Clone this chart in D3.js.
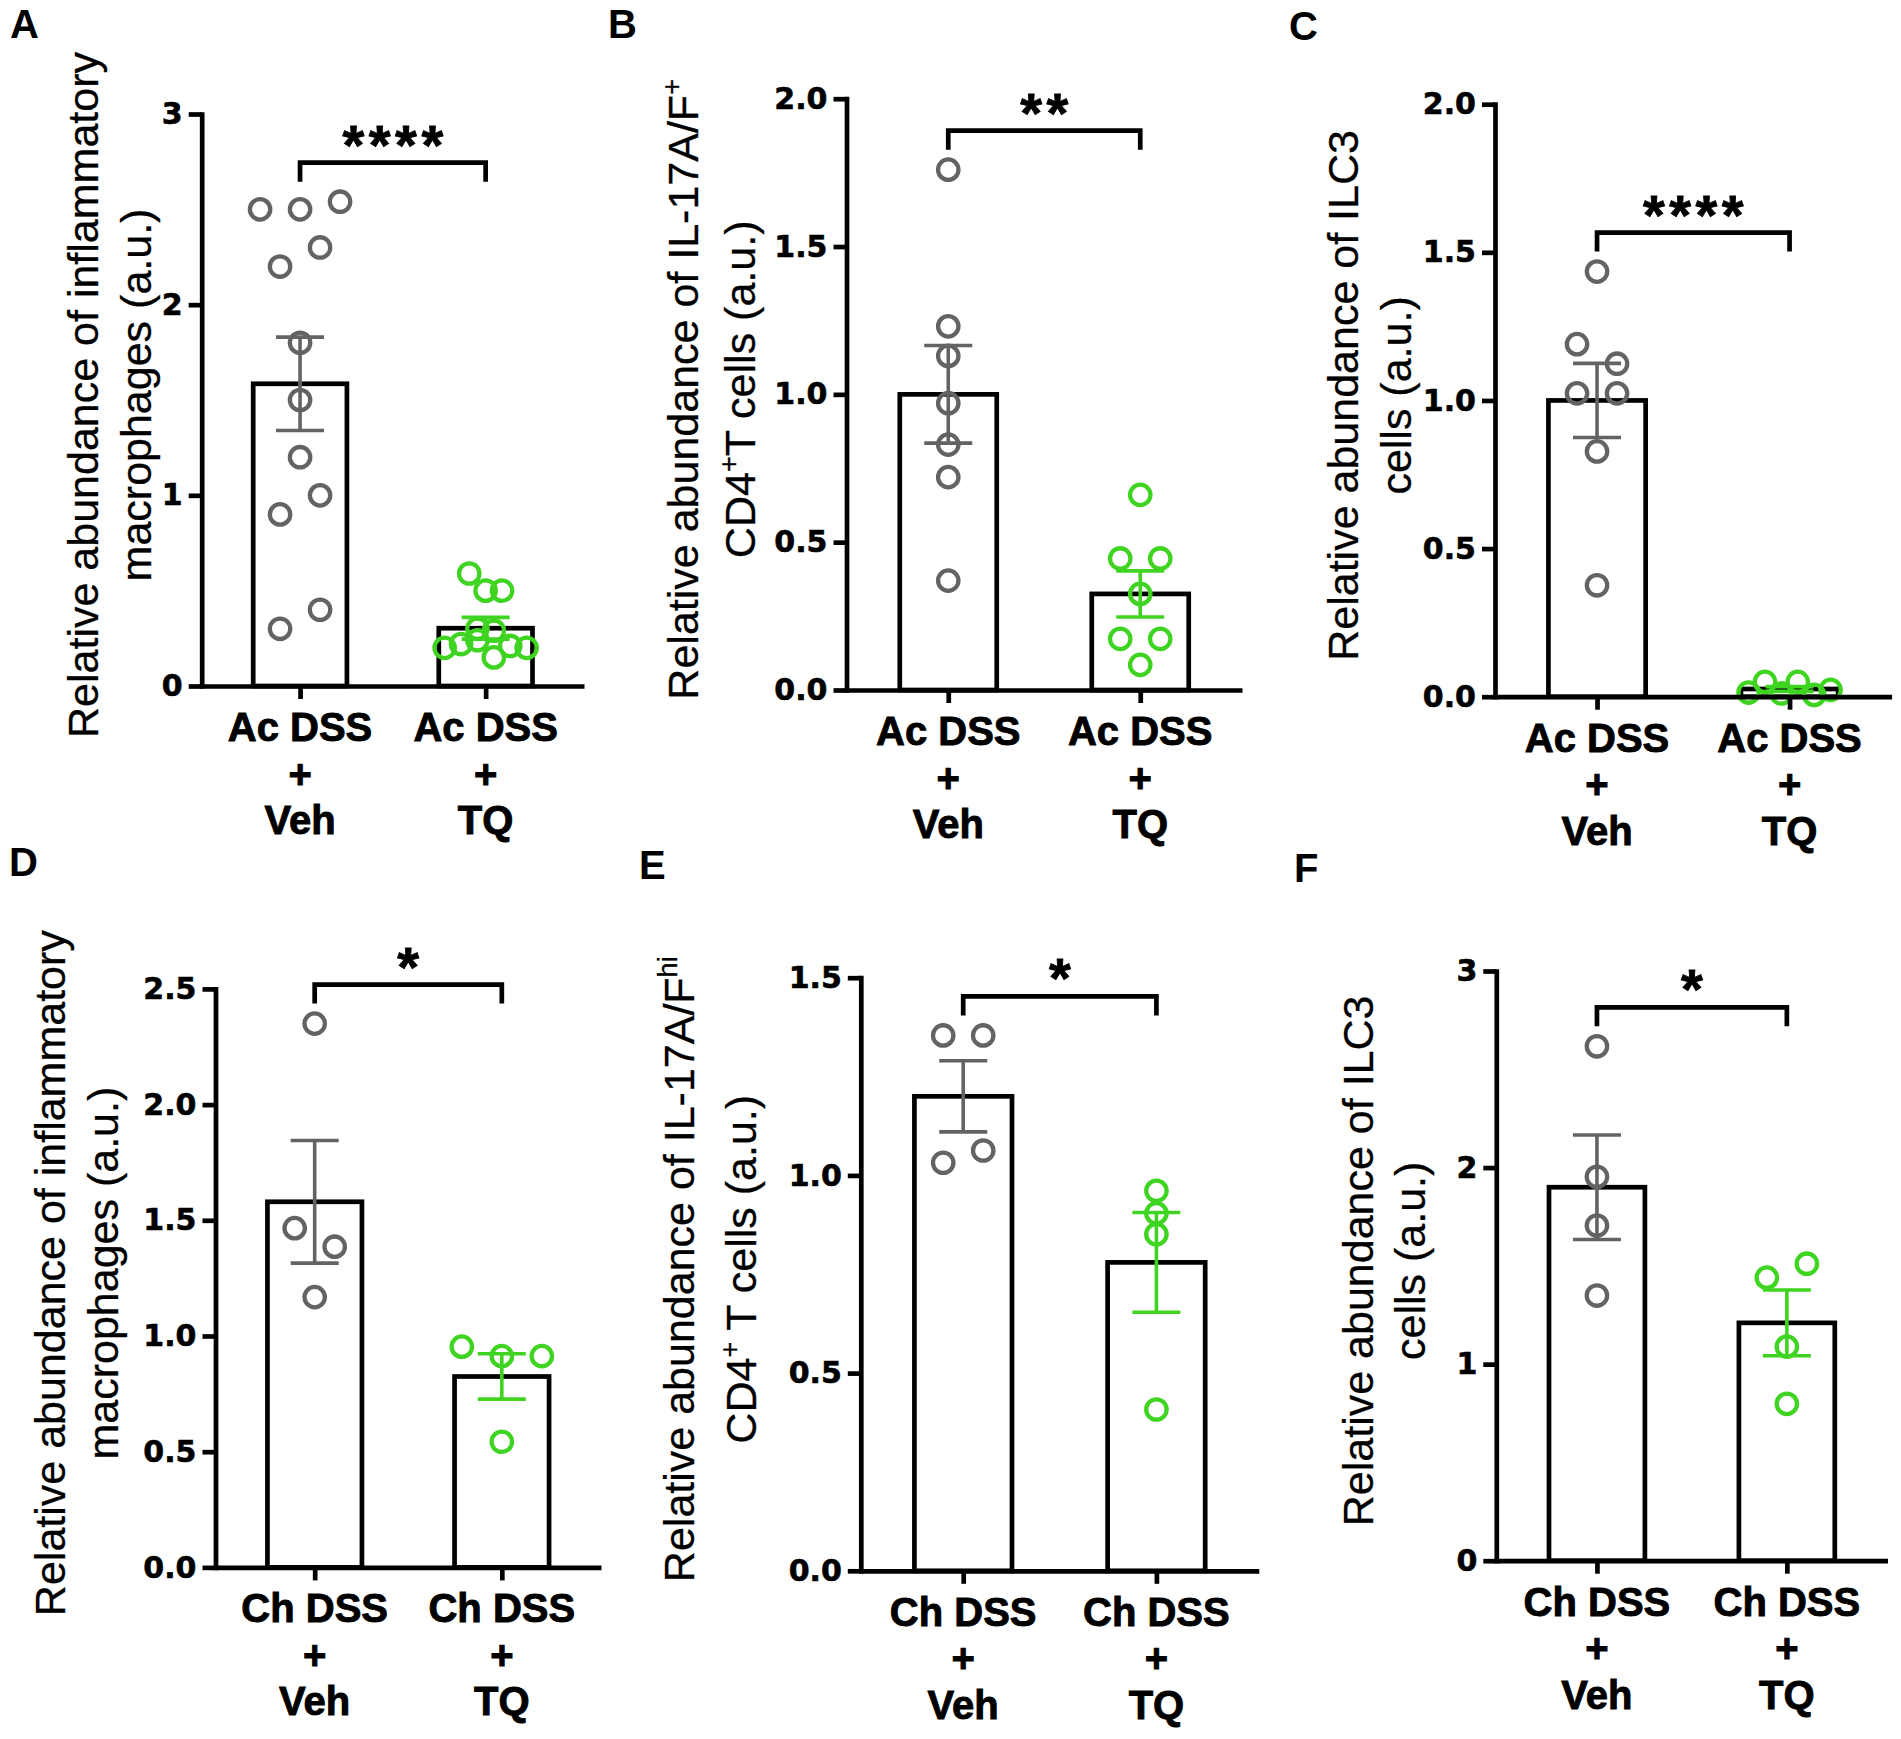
<!DOCTYPE html>
<html><head><meta charset="utf-8">
<script src="https://cdn.jsdelivr.net/npm/d3@7"></script>
<style>body{margin:0;background:#fff}</style>
</head><body>
<svg id="chart" width="1901" height="1739" xmlns="http://www.w3.org/2000/svg"></svg>
<script>
// ---------------- data ----------------
const catsAcute   = [["Ac DSS", "+", "Veh"], ["Ac DSS", "+", "TQ"]];
const catsChronic = [["Ch DSS", "+", "Veh"], ["Ch DSS", "+", "TQ"]];

const ticksA = [0, 1, 2, 3];
const ticksB = [0, 0.5, 1.0, 1.5, 2.0];
const ticksC = [0, 0.5, 1.0, 1.5, 2.0];
const ticksD = [0, 0.5, 1.0, 1.5, 2.0, 2.5];
const ticksE = [0, 0.5, 1.0, 1.5];
const ticksF = [0, 1, 2, 3];

const vehA  = [2.50, 2.50, 2.54, 2.20, 2.30, 1.80, 1.50, 1.20, 0.90, 1.00, 0.30, 0.40];
const tqA   = [0.59, 0.50, 0.50, 0.30, 0.29, 0.20, 0.22, 0.24, 0.15, 0.21, 0.20];
const meanA = [1.585, 0.303];
const semA  = [0.245, 0.057];

const vehB  = [1.76, 1.23, 1.13, 0.97, 0.83, 0.72, 0.37];
const tqB   = [0.66, 0.445, 0.445, 0.325, 0.173, 0.173, 0.085];
const meanB = [1.0, 0.325];
const semB  = [0.165, 0.078];

const vehC  = [1.435, 1.19, 1.124, 1.024, 1.024, 0.828, 0.376];
const tqC   = [0.014, 0.05, 0.011, 0.05, 0.006, 0.023];
const meanC = [1.0, 0.026];
const semC  = [0.125, 0.008];

const vehD  = [2.35, 1.466, 1.386, 1.168];
const tqD   = [0.954, 0.913, 0.913, 0.543];
const meanD = [1.58, 0.825];
const semD  = [0.265, 0.098];

const vehE  = [1.354, 1.354, 1.032, 1.063];
const tqE   = [0.961, 0.904, 0.851, 0.408];
const meanE = [1.2, 0.78];
const semE  = [0.09, 0.126];

const vehF  = [2.617, 1.953, 1.705, 1.349];
const tqF   = [1.44, 1.511, 1.089, 0.798];
const meanF = [1.9, 1.21];
const semF  = [0.266, 0.167];

const sigLabels = ["****", "**", "****", "*", "*", "*"];
const letters   = ["A", "B", "C", "D", "E", "F"];

// titles: lines made of [text, isSuperscript]
const titleA = [[["Relative abundance of inflammatory", 0]], [["macrophages (a.u.)", 0]]];
const titleB = [[["Relative abundance of IL-17A/F", 0], ["+", 1]], [["CD4", 0], ["+", 1], ["T cells (a.u.)", 0]]];
const titleC = [[["Relative abundance of ILC3", 0]], [["cells (a.u.)", 0]]];
const titleD = [[["Relative abundance of inflammatory", 0]], [["macrophages (a.u.)", 0]]];
const titleE = [[["Relative abundance of IL-17A/F", 0], ["hi", 1]], [["CD4", 0], ["+", 1], [" T cells (a.u.)", 0]]];
const titleF = [[["Relative abundance of ILC3", 0]], [["cells (a.u.)", 0]]];

// ---------------- layout (pixels) ----------------
const layouts = [
  {x0: 201.7, xEnd: 584,    yTop: 114,   yBase: 686,    t1: 98,   t2: 151,  lx: 10,   ly: 38},
  {x0: 846.5, xEnd: 1242,   yTop: 98.7,  yBase: 690,    t1: 698,  t2: 755,  lx: 608,  ly: 38},
  {x0: 1495,  xEnd: 1891.6, yTop: 104.2, yBase: 696.7,  t1: 1358, t2: 1411, lx: 1289, ly: 40},
  {x0: 215.5, xEnd: 601,    yTop: 988.9, yBase: 1567.4, t1: 65,   t2: 118,  lx: 9,    ly: 876},
  {x0: 860.8, xEnd: 1258.8, yTop: 977.7, yBase: 1570.8, t1: 694,  t2: 756,  lx: 639,  ly: 879},
  {x0: 1496.3,xEnd: 1887.5, yTop: 971,   yBase: 1560.7, t1: 1373, t2: 1425, lx: 1294, ly: 882}
];

const panels = [
  {cats: catsAcute,   ticks: ticksA, fmt: d3.format("d"),   groups: [vehA, tqA], mean: meanA, sem: semA, title: titleA},
  {cats: catsAcute,   ticks: ticksB, fmt: d3.format(".1f"), groups: [vehB, tqB], mean: meanB, sem: semB, title: titleB},
  {cats: catsAcute,   ticks: ticksC, fmt: d3.format(".1f"), groups: [vehC, tqC], mean: meanC, sem: semC, title: titleC},
  {cats: catsChronic, ticks: ticksD, fmt: d3.format(".1f"), groups: [vehD, tqD], mean: meanD, sem: semD, title: titleD},
  {cats: catsChronic, ticks: ticksE, fmt: d3.format(".1f"), groups: [vehE, tqE], mean: meanE, sem: semE, title: titleE},
  {cats: catsChronic, ticks: ticksF, fmt: d3.format("d"),   groups: [vehF, tqF], mean: meanF, sem: semF, title: titleF}
];

const COLORS = ["#636363", "#3fd421"];
const AXW = 4.7;
const svg = d3.select("#chart");

// simple beeswarm: bin by pixel height, spread each bin symmetrically (input order kept)
function swarm(vals, y, cx, maxW) {
  const pts = vals.map((v, idx) => ({v, idx, py: y(v)})).sort((a, b) => a.v - b.v);
  const bins = []; let cur = null;
  pts.forEach(p => {
    if (cur && Math.abs(p.py - cur[0].py) < 20) cur.push(p);
    else { cur = [p]; bins.push(cur); }
  });
  const nmax = d3.max(bins, b => b.length);
  const s = nmax > 1 ? Math.min(40, maxW / (nmax - 1)) : 40;
  bins.forEach(b => {
    b.sort((a, c) => a.idx - c.idx);
    b.forEach((p, i) => { p.px = cx + (i - (b.length - 1) / 2) * s; });
  });
  return pts;
}

panels.forEach((p, k) => {
  const L = layouts[k];
  const g = svg.append("g");
  const y = d3.scaleLinear().domain([0, d3.max(p.ticks)]).range([L.yBase, L.yTop]);
  const x = d3.scalePoint().domain([0, 1]).range([L.x0, L.xEnd]).padding(0.53);
  const bw = x.step() * 0.505;

  // bars
  g.selectAll("rect.bar").data(p.mean).join("rect").attr("class", "bar")
    .attr("x", (d, i) => x(i) - bw / 2).attr("y", d => y(d))
    .attr("width", bw).attr("height", d => y(0) - y(d))
    .attr("fill", "#fff").attr("stroke", "#000").attr("stroke-width", AXW);

  // points
  p.groups.forEach((vals, gi) => {
    const pts = swarm(vals, y, x(gi), 82);
    g.selectAll(null).data(pts).join("circle")
      .attr("cx", d => d.px).attr("cy", d => d.py).attr("r", 10.2)
      .attr("fill", "none").attr("stroke", COLORS[gi]).attr("stroke-width", 4.3);
  });

  // error bars (SEM)
  p.mean.forEach((m, i) => {
    const e = g.append("g").attr("stroke", COLORS[i]).attr("stroke-width", 3.6);
    const cx = x(i), lo = y(m - p.sem[i]), hi = y(m + p.sem[i]);
    e.append("line").attr("x1", cx).attr("x2", cx).attr("y1", lo).attr("y2", hi);
    e.append("line").attr("x1", cx - 24).attr("x2", cx + 24).attr("y1", hi).attr("y2", hi);
    e.append("line").attr("x1", cx - 24).attr("x2", cx + 24).attr("y1", lo).attr("y2", lo);
  });

  // y axis
  const ya = g.append("g").attr("transform", `translate(${L.x0},0)`)
    .call(d3.axisLeft(y).tickValues(p.ticks).tickFormat(p.fmt).tickSize(13).tickSizeOuter(0).tickPadding(6));
  ya.select(".domain").attr("stroke-width", AXW).attr("stroke-linecap", "square");
  ya.selectAll(".tick line").attr("stroke-width", AXW);
  ya.selectAll(".tick text").attr("font-family", "'DejaVu Sans', sans-serif")
    .attr("font-weight", "bold").attr("font-size", 30).attr("fill", "#000")
    .attr("stroke", "#000").attr("stroke-width", 0.6);

  // x axis
  const xa = g.append("g").attr("transform", `translate(0,${L.yBase})`)
    .call(d3.axisBottom(x).tickSize(13).tickSizeOuter(0).tickFormat(""));
  xa.select(".domain").attr("stroke-width", AXW);
  xa.selectAll(".tick line").attr("stroke-width", AXW);

  // category labels
  p.cats.forEach((lines, i) => {
    const t = g.append("text").attr("text-anchor", "middle")
      .attr("font-family", "'Liberation Sans', Arial, sans-serif")
      .attr("font-weight", "bold").attr("font-size", 40).attr("fill", "#000")
      .attr("stroke", "#000").attr("stroke-width", 0.9);
    lines.forEach((ln, j) => {
      t.append("tspan").attr("x", x(i)).attr("y", L.yBase + 55 + j * 46.5).text(ln);
    });
  });

  // significance bracket
  const allPts = p.groups.flat();
  const yb = y(d3.max(allPts)) - 39;
  g.append("path")
    .attr("d", `M${x(0)},${yb + 19}V${yb}H${x(1)}V${yb + 19}`)
    .attr("fill", "none").attr("stroke", "#000").attr("stroke-width", AXW);
  const ls = 4.5;
  g.append("text").attr("x", (x(0) + x(1)) / 2 + ls / 2).attr("y", yb - 29 + 30)
    .attr("text-anchor", "middle").attr("font-family", "'Liberation Sans', Arial, sans-serif")
    .attr("font-weight", "bold").attr("font-size", 56).attr("letter-spacing", ls)
    .attr("stroke", "#000").attr("stroke-width", 0.8)
    .text(sigLabels[k]);

  // y title (rotated, two lines)
  const cy = (L.yTop + L.yBase) / 2 - 5;
  [L.t1, L.t2].forEach((bx, li) => {
    const t = g.append("text").attr("transform", `translate(${bx},${cy}) rotate(-90)`)
      .attr("text-anchor", "middle").attr("font-family", "'Liberation Sans', Arial, sans-serif")
      .attr("font-size", 43).attr("fill", "#000").attr("stroke", "#000").attr("stroke-width", 0.3);
    let shifted = false;
    p.title[li].forEach(([txt, sup]) => {
      const ts = t.append("tspan").text(txt);
      if (sup) { ts.attr("font-size", 27).attr("dy", -17); shifted = true; }
      else if (shifted) { ts.attr("dy", 17); shifted = false; }
    });
  });

  // panel letter
  g.append("text").attr("x", L.lx).attr("y", L.ly)
    .attr("font-family", "'Liberation Sans', Arial, sans-serif")
    .attr("font-weight", "bold").attr("font-size", 40).text(letters[k]);
});
</script>
</body></html>
